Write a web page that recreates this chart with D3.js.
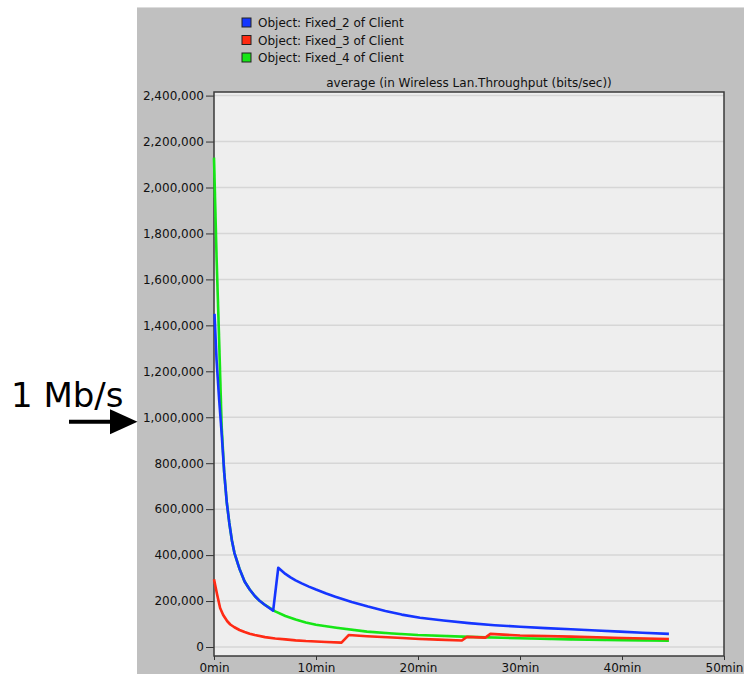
<!DOCTYPE html>
<html>
<head>
<meta charset="utf-8">
<script src="https://cdn.jsdelivr.net/npm/d3@7"></script>
<style>
  html, body { margin: 0; padding: 0; background: #ffffff; }
  svg { display: block; }
  text { font-family: "DejaVu Sans", sans-serif; }
</style>
</head>
<body>
<svg id="chart" width="744" height="674"></svg>
<script>
// Average wireless LAN throughput (bits/sec) per client, time in minutes.
const seriesNames = ["Object: Fixed_2 of Client", "Object: Fixed_3 of Client", "Object: Fixed_4 of Client"];
const seriesColors = ["#1436ff", "#ff2a12", "#16e616"];

const fixed2Time = [0.05, 0.25, 0.5, 0.75, 1, 1.25, 1.5, 1.75, 2, 2.5, 3, 3.5, 4, 4.5, 5, 5.8, 6.3, 7, 7.5, 8, 8.6, 9.3, 10, 11, 11.9, 13.5, 15.1, 16.8, 18.4, 20.2, 22.5, 25, 27.5, 30, 32.5, 35, 37.5, 39.8, 42, 44.6];
const fixed2Value = [1450000, 1250000, 1080000, 930000, 760000, 630000, 540000, 465000, 410000, 340000, 285000, 250000, 222000, 200000, 183000, 158000, 345000, 318000, 303000, 290000, 277000, 263000, 250000, 233000, 219000, 196000, 176000, 157000, 141000, 127000, 115000, 104000, 95000, 88000, 82000, 77000, 72000, 67000, 62000, 57000];

const fixed3Time = [0, 0.3, 0.6, 0.9, 1.3, 1.6, 2, 2.5, 3, 3.5, 4, 5, 6, 7, 8, 9, 11, 12.5, 13.2, 15, 18, 20.2, 22, 24.3, 24.8, 26.6, 27.1, 30, 35, 40, 44.6];
const fixed3Value = [295000, 230000, 170000, 139000, 112000, 98000, 86000, 74000, 65000, 58000, 52000, 43000, 37000, 33000, 29000, 26000, 22000, 19000, 52000, 47000, 40000, 35000, 32000, 28000, 44000, 41000, 57000, 50000, 45000, 39000, 35000];

const fixed4Time = [0, 0.25, 0.5, 0.75, 1, 1.25, 1.5, 1.75, 2, 2.5, 3, 3.5, 4, 4.5, 5, 6, 7, 8, 9, 10, 12, 15, 17.5, 20, 25, 30, 35, 40, 44.6];
const fixed4Value = [2130000, 1700000, 1340000, 960000, 760000, 630000, 540000, 465000, 410000, 340000, 285000, 250000, 222000, 200000, 183000, 155000, 135000, 120000, 107000, 97000, 84000, 67000, 59000, 52000, 44000, 38000, 33000, 30000, 27000];

const yTicks = [0, 200000, 400000, 600000, 800000, 1000000, 1200000, 1400000, 1600000, 1800000, 2000000, 2200000, 2400000];
const xTicks = [0, 10, 20, 30, 40, 50];
const chartTitle = "average (in Wireless Lan.Throughput (bits/sec))";
const noteText = "1 Mb/s";
const noteValue = 1000000;

const svg = d3.select("#chart");

// grey panel
svg.append("rect").attr("x", 137).attr("y", 7).attr("width", 607).attr("height", 667).attr("fill", "#c0c0c0");
svg.append("line").attr("x1", 137).attr("x2", 744).attr("y1", 7.5).attr("y2", 7.5).attr("stroke", "#dcdcdc").attr("stroke-width", 1);

const plot = { left: 214, right: 724, top: 92, bottom: 656 };
const x = d3.scaleLinear().domain([0, 50]).range([214, 724]);
const y = d3.scaleLinear().domain([0, 2400000]).range([647, 95.6]);

// plot background
svg.append("rect")
  .attr("x", plot.left).attr("y", plot.top)
  .attr("width", plot.right - plot.left).attr("height", plot.bottom - plot.top)
  .attr("fill", "#eeeeee");

// horizontal grid
svg.append("g").selectAll("line").data(yTicks).join("line")
  .attr("x1", plot.left).attr("x2", plot.right)
  .attr("y1", d => y(d)).attr("y2", d => y(d))
  .attr("stroke", "#d6d6d6").attr("stroke-width", 1.5);

// y axis
const yAxis = d3.axisLeft(y).tickValues(yTicks).tickFormat(d3.format(",")).tickSize(8).tickSizeOuter(0);
const gy = svg.append("g").attr("transform", `translate(${plot.left},0)`).call(yAxis);
gy.select(".domain").remove();
gy.selectAll(".tick line").attr("stroke", "#333").attr("stroke-width", 1);
gy.selectAll(".tick text").attr("font-size", 12).attr("fill", "#111").attr("x", -10)
  .attr("font-family", "DejaVu Sans, sans-serif");

// x axis
const xAxis = d3.axisBottom(x).tickValues(xTicks).tickFormat(d => d + "min").tickSize(4).tickSizeOuter(0);
const gx = svg.append("g").attr("transform", `translate(0,${plot.bottom})`).call(xAxis);
gx.select(".domain").remove();
gx.selectAll(".tick line").attr("stroke", "#333").attr("stroke-width", 1);
gx.selectAll(".tick text").attr("font-size", 12).attr("fill", "#111").attr("y", 7)
  .attr("font-family", "DejaVu Sans, sans-serif");

// frame
svg.append("rect")
  .attr("x", plot.left).attr("y", plot.top)
  .attr("width", plot.right - plot.left).attr("height", plot.bottom - plot.top)
  .attr("fill", "none").attr("stroke", "#3a3a3a").attr("stroke-width", 1.5);

// series lines
const line = d3.line().x(d => x(d[0])).y(d => y(d[1]));
const series = [
  { t: fixed4Time, v: fixed4Value, c: seriesColors[2] },
  { t: fixed3Time, v: fixed3Value, c: seriesColors[1] },
  { t: fixed2Time, v: fixed2Value, c: seriesColors[0] }
];
const defs = svg.append("defs");
defs.append("filter").attr("id", "soft").append("feGaussianBlur").attr("stdDeviation", 0.35);
svg.append("g").selectAll("path").data(series).join("path")
  .attr("d", s => line(d3.zip(s.t, s.v)))
  .attr("fill", "none")
  .attr("stroke", s => s.c)
  .attr("stroke-width", 2.6)
  .attr("stroke-linejoin", "round")
  .attr("filter", "url(#soft)");

// legend
const legend = svg.append("g").selectAll("g").data(seriesNames).join("g")
  .attr("transform", (d, i) => `translate(242,${18 + i * 17.5})`);
legend.append("rect").attr("width", 9).attr("height", 9)
  .attr("fill", (d, i) => seriesColors[i]).attr("stroke", "#222").attr("stroke-width", 1);
legend.append("text").attr("x", 16).attr("y", 9).attr("font-size", 12).attr("fill", "#111").text(d => d);

// title
svg.append("text").attr("x", (plot.left + plot.right) / 2).attr("y", 87)
  .attr("text-anchor", "middle").attr("font-size", 12).attr("fill", "#111").text(chartTitle);

// annotation
svg.append("text").attr("x", 11).attr("y", 407)
  .attr("font-family", "Liberation Sans, Arial, sans-serif").attr("font-size", 34).attr("fill", "#000").text(noteText);
const ay = y(noteValue) + 4.5;
svg.append("line").attr("x1", 69).attr("x2", 112).attr("y1", ay).attr("y2", ay)
  .attr("stroke", "#000").attr("stroke-width", 4);
svg.append("path")
  .attr("d", `M110,${ay - 12.5}L137.5,${ay}L110,${ay + 12.5}Z`)
  .attr("fill", "#000");
</script>
</body>
</html>
